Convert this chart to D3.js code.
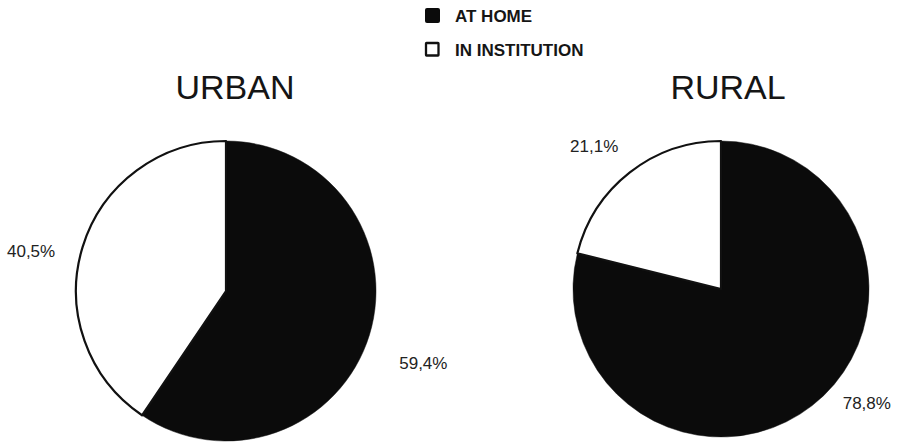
<!DOCTYPE html>
<html>
<head>
<meta charset="utf-8">
<script src="https://cdn.jsdelivr.net/npm/d3@7"></script>
<style>
  html, body { margin: 0; padding: 0; background: #ffffff; }
  svg { display: block; }
  text { font-family: "Liberation Sans", Arial, Helvetica, sans-serif; }
</style>
</head>
<body>
<svg id="chart" width="917" height="442"></svg>
<script>
// ---- data ----
const categories = ["AT HOME", "IN INSTITUTION"];
const regions = ["URBAN", "RURAL"];
const urbanValues = [59.4, 40.5];
const ruralValues = [78.8, 21.1];

// ---- styling / layout ----
const W = 917, H = 442;
const colors = d3.scaleOrdinal().domain(categories).range(["#0b0b0b", "#ffffff"]);
const locale = d3.formatLocale({ decimal: ",", thousands: ".", grouping: [3], currency: ["", ""] });
const fmt = v => locale.format(".1f")(v) + "%";

const pies = [
  { name: regions[0], values: urbanValues, cx: 226, cy: 291, r: 150, titleX: 235,
    labelPolar: [[110, 210], [281.6, 199]] },
  { name: regions[1], values: ruralValues, cx: 721, cy: 289, r: 148, titleX: 728,
    labelPolar: [[128, 185], [318.4, 191]] }
];

const svg = d3.select("#chart");
svg.append("rect").attr("width", W).attr("height", H).attr("fill", "#ffffff");

// legend
const legend = svg.append("g").attr("transform", "translate(425,0)");
const legendRows = legend.selectAll("g").data(categories).join("g")
  .attr("transform", (d, i) => `translate(0,${[8, 42][i]})`);
legendRows.append("rect")
  .attr("x", (d, i) => i === 0 ? 0 : 1)
  .attr("y", (d, i) => i === 0 ? 0 : 1)
  .attr("width", (d, i) => i === 0 ? 15 : 12.5)
  .attr("height", (d, i) => i === 0 ? 15 : 12.5)
  .attr("rx", (d, i) => i === 0 ? 2 : 0.5)
  .attr("fill", d => colors(d))
  .attr("stroke", "#111")
  .attr("stroke-width", (d, i) => i === 0 ? 0 : 2.3);
legendRows.append("text")
  .attr("x", 30)
  .attr("y", 14)
  .attr("font-size", 17)
  .attr("font-weight", "bold")
  .attr("fill", "#151515")
  .text(d => d);

const pie = d3.pie().sort(null).value(d => d);

pies.forEach(p => {
  const g = svg.append("g").attr("transform", `translate(${p.cx},${p.cy})`);
  const arc = d3.arc().innerRadius(0).outerRadius(p.r);
  const arcsData = pie(p.values);
  g.selectAll("path").data(arcsData).join("path")
    .attr("d", arc)
    .attr("fill", (d, i) => colors(categories[i]))
    .attr("stroke", "#111")
    .attr("stroke-width", (d, i) => i === 0 ? 0.5 : 2.2)
    .attr("stroke-linejoin", "round");

  // title
  svg.append("text")
    .attr("x", p.titleX)
    .attr("y", 99)
    .attr("text-anchor", "middle")
    .attr("font-size", 34)
    .attr("fill", "#151515")
    .text(p.name);

  // labels
  g.selectAll("text.lbl").data(arcsData).join("text")
    .attr("class", "lbl")
    .attr("x", (d, i) => p.labelPolar[i][1] * Math.sin(p.labelPolar[i][0] * Math.PI / 180))
    .attr("y", (d, i) => -p.labelPolar[i][1] * Math.cos(p.labelPolar[i][0] * Math.PI / 180))
    .attr("dy", "0.36em")
    .attr("text-anchor", "middle")
    .attr("font-size", 17)
    .attr("fill", "#222")
    .text(d => fmt(d.data));
});
</script>
</body>
</html>
